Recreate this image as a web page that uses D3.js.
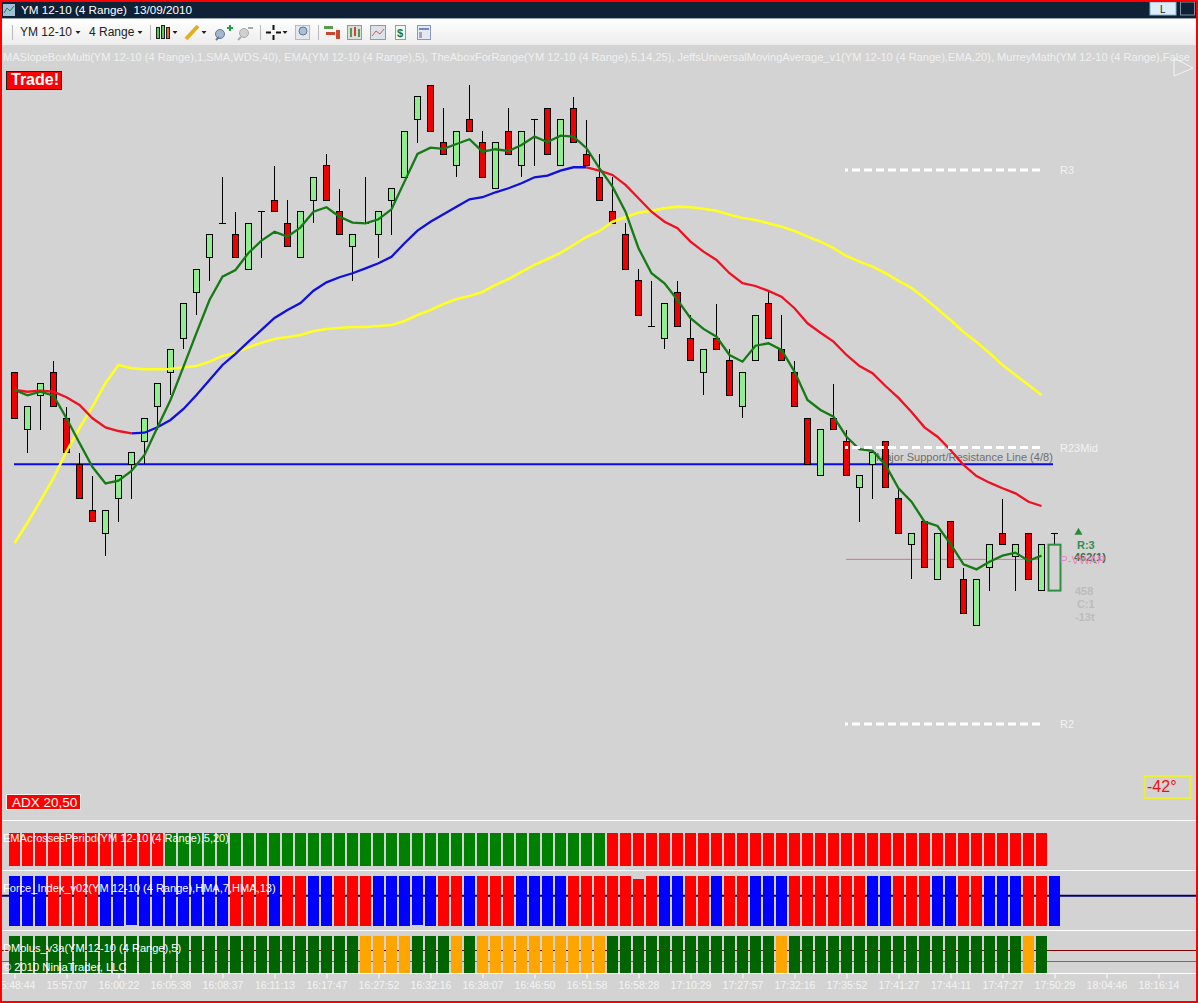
<!DOCTYPE html>
<html>

<head>
    <title>YM 12-10 (4 Range)</title>
    <meta charset="UTF-8" />
    <style>
        html, body { margin: 0; padding: 0; background: #d3d3d3; overflow: hidden; }
        svg { display: block; }
        text { font-family: "Liberation Sans", Arial, sans-serif; white-space: pre; }
    </style>
</head>

<body>
    <script src="https://d3js.org/d3.v7.min.js"></script>
    <script>
        // candles, one value per bar (price minus 10000)
        const opens = [477,472,475,477,473,469,465,463,466,469,471,474,477,480,484,487,490,489,486,491,
            492,490,487,492,495,491,488,490,489,492,494,499,502,497,495,499,497,493,498,495,
            499,500,495,500,496,494,491,489,485,481,480,484,480,477,480,478,474,478,483,479,
            477,473,468,473,471,467,469,471,466,462,464,459,464,459,455,460,463,461,463,458,458];
        const closes = [473,474,476,474,470,466,464,465,468,470,473,476,479,483,486,489,490,487,490,491,
            491,488,491,494,492,489,489,490,491,493,498,501,498,496,498,498,494,497,496,498,
            499,496,499,497,495,492,490,486,482,481,483,481,478,479,479,475,477,482,480,478,
            474,469,472,472,468,468,470,467,463,463,460,463,460,456,459,462,462,462,459,462,462];
        const highs = [477,474,476,478,474,470,468,465,468,470,473,476,479,483,486,489,494,491,490,491,
            495,492,491,494,496,493,489,494,491,493,498,501,502,500,498,502,498,497,500,498,
            499,500,499,501,499,496,494,490,486,485,483,485,482,479,483,479,477,482,484,482,
            478,473,472,476,472,468,470,471,467,463,464,463,464,460,459,462,466,462,463,462,463];
        const lows = [473,470,472,474,470,466,464,461,464,466,469,472,475,479,482,485,490,487,486,487,
            491,488,487,490,492,489,485,490,487,489,494,497,498,496,494,498,494,493,496,494,
            495,496,495,497,495,492,490,486,482,481,479,481,478,475,479,475,473,478,480,478,
            474,469,468,472,468,464,466,467,463,459,460,459,460,456,455,458,462,458,459,458,458];

        // EMA(5), green
        const ema5 = [475.47,475.01,475.32,474.98,473.01,470.86,468.76,467.34,467.57,468.42,
            469.81,472.22,474.6,477.5,480.44,483.31,485.34,485.92,487.41,488.48,
            489.26,488.83,489.64,491,491.39,490.57,490.05,489.99,490.34,491.21,
            493.62,496.03,496.58,496.47,496.9,497.31,496.23,496.44,496.29,496.81,
            497.54,497.07,497.62,497.54,496.53,494.78,493.18,491,487.82,485.64,
            484.77,483.31,481.72,480.79,480.11,478.52,477.94,479.33,479.54,478.96,
            477.07,474.6,473.73,473.15,471.4,470.31,470.18,468.94,466.91,465.74,
            464,463.63,462.06,460.29,459.85,460.52,461.04,461.3,460.6,461.04];

        // JeffsUniversalMovingAverage, EMA 20, red when falling and blue when rising
        const jma20 = [475.47,475.32,475.41,475.32,474.84,474.17,473.01,472.22,471.9,471.7,
            471.75,472.22,472.86,473.82,475.04,476.34,477.65,478.61,479.68,480.7,
            481.74,482.44,483.05,484.12,484.85,485.29,485.64,486.07,486.51,487.08,
            488.25,489.35,490.13,490.78,491.44,492.08,492.26,492.69,493.04,493.48,
            494,494.14,494.57,494.87,494.87,494.57,494.2,493.33,492.17,491,
            490.13,489.56,488.39,487.52,486.8,485.64,484.77,484.53,484.1,483.6,
            482.59,481.28,480.46,479.68,478.52,477.56,476.93,475.82,474.78,473.56,
            472.22,471.4,470.25,468.94,467.98,467.4,466.91,466.47,465.74,465.37];
        const jmaBlueFrom = 9;
        const jmaBlueTo = 44;

        // yellow slope average
        const slopeMa = [462.12,463.91,465.83,467.81,470.1,472.16,474.02,476.08,477.65,477.36,
            477.28,477.28,477.3,477.45,477.56,477.94,478.43,478.72,479.19,479.59,
            479.91,480.09,480.26,480.61,480.79,480.87,480.96,480.96,481.05,481.13,
            481.48,482,482.44,482.96,483.4,483.66,484.01,484.62,485.14,485.75,
            486.36,486.88,487.41,488.1,488.8,489.32,490.13,490.52,490.92,491.09,
            491.3,491.44,491.39,491.26,491.09,490.74,490.45,490.28,489.99,489.7,
            489.32,488.83,488.39,487.82,487.14,486.65,486.21,485.64,484.97,484.36,
            483.49,482.53,481.57,480.52,479.65,478.7,477.65,476.78,475.91,475.04];

        // Murrey levels
        const levelNames = ["R3", "R23Mid", "R2"];
        const levelValues = [494.64, 470.46, 446.38];
        const majorLine = 469;
        const vwapLine = 460.72;

        // time axis, one label every 4 bars
        const timeLabels = ["15:48:44","15:57:07","16:00:22","16:05:38","16:08:37","16:11:13","16:17:47","16:27:52",
            "16:32:16","16:38:07","16:46:50","16:51:58","16:58:28","17:10:29","17:27:57","17:32:16",
            "17:35:52","17:41:27","17:44:11","17:47:27","17:50:29","18:04:46","18:16:14"];

        // bottom panels, r=red g=green b=blue d=dark green o=orange
        const emaCross = "rrrrrrrrrrrrggggggggggggggggggggggggggggggggggrrrrrrrrrrrrrrrrrrrrrrrrrrrrrrrrrr";
        const forceIndex = "bbbrrrrbbbbbbbbbbrrrbrrbbrrrbbbbbrrbrrrbbbbrrrrrrrbbrrbrrbbbrrrrrrbbrrrbbrrbbbrrb";
        const dmolus = "dddddddddddddddddddddddddddoooodddodoooooooooodddddddddddddoddddddddddddddddddod";
        const forceShortBottom = [9, 31];
        const forceShortTop = [48];
        const barColors = { r: "#ff0000", g: "#008000", b: "#0000ff", d: "#006400", o: "#ffa500" };

        const legendText = "MASlopeBoxMulti(YM 12-10 (4 Range),1,SMA,WDS,40), EMA(YM 12-10 (4 Range),5), TheAboxForRange(YM 12-10 (4 Range),5,14,25), JeffsUniversalMovingAverage_v1(YM 12-10 (4 Range),EMA,20), MurreyMath(YM 12-10 (4 Range),False";

        let width = 1198,
            height = 1003;

        let svg = d3.select("body").append("svg")
            .attr("width", width)
            .attr("height", height);

        // scales
        let x = d3.scaleLinear().domain([0, 88]).range([14.5, 14.5 + 13 * 88]);
        let y = d3.scaleLinear().domain([458, 469]).range([590.6, 464.3]);
        let yForce = d3.scaleLinear().domain([0, 1]).range([926, 876]);

        // gradient of the toolbar
        let grad = svg.append("defs").append("linearGradient")
            .attr("id", "toolbar").attr("x1", 0).attr("x2", 0).attr("y1", 0).attr("y2", 1);
        grad.append("stop").attr("offset", "0%").attr("stop-color", "#ffffff");
        grad.append("stop").attr("offset", "100%").attr("stop-color", "#ececec");

        // chart background
        svg.append("rect").attr("width", width).attr("height", height).attr("fill", "#d3d3d3");

        // panel separators
        svg.append("g").selectAll("line").data([820.5, 870.5, 930.5, 973.5]).enter().append("line")
            .attr("x1", 2).attr("x2", 1196)
            .attr("y1", d => d).attr("y2", d => d)
            .attr("stroke", "#ffffff").attr("stroke-width", 1);

        // lines behind the bottom bars
        hline(895.8, 0, 1196, "#00006e", 2);
        hline(950.5, 0, 1196, "#7a0000", 1);
        hline(961.5, 0, 1196, "#c030e0", 1);

        // bottom panels
        drawBars(emaCross, () => 833, () => 866);
        drawBars(forceIndex,
            (d, i) => forceShortTop.includes(i) ? yForce(0.95) : yForce(1),
            (d, i) => forceShortBottom.includes(i) ? yForce(0.03) : yForce(0));
        drawBars(dmolus, () => 936, () => 973);

        function drawBars(codes, top, bottom) {
            svg.append("g").selectAll("rect").data(codes.split("")).enter().append("rect")
                .attr("x", (d, i) => x(i) - 5.5)
                .attr("width", 11)
                .attr("y", top)
                .attr("height", (d, i) => bottom(d, i) - top(d, i))
                .attr("fill", d => barColors[d])
                .attr("shape-rendering", "crispEdges");
        }

        function hline(yy, x1, x2, color, w) {
            svg.append("line").attr("x1", x1).attr("x2", x2)
                .attr("y1", yy).attr("y2", yy)
                .attr("stroke", color).attr("stroke-width", w);
        }

        function label(txt, tx, ty, size, color, weight) {
            return svg.append("text").attr("x", tx).attr("y", ty)
                .attr("font-size", size).attr("fill", color)
                .attr("font-weight", weight || "normal")
                .text(txt);
        }

        // major line and its label, under the candles
        hline(y(majorLine), 14, 1053, "#0a0aee", 2);
        label("Major Support/Resistance Line (4/8)", 876, 461, 11.05, "#6e6e6e");
        svg.append("line").attr("x1", 846).attr("x2", 1041)
            .attr("y1", y(vwapLine)).attr("y2", y(vwapLine))
            .attr("stroke", "#f060b0").attr("stroke-width", 1);

        // candles
        let candleData = opens.map((o, i) => ({ i: i, o: o, c: closes[i], h: highs[i], l: lows[i] }));
        let ghost = candleData.length - 1;

        svg.append("g").selectAll("line").data(candleData).enter().append("line")
            .attr("x1", d => x(d.i)).attr("x2", d => x(d.i))
            .attr("y1", d => y(d.h)).attr("y2", d => y(d.l))
            .attr("stroke", "#000").attr("stroke-width", 1)
            .attr("shape-rendering", "crispEdges");

        svg.append("g").selectAll("rect").data(candleData.slice(0, ghost)).enter().append("rect")
            .attr("x", d => x(d.i) - 3)
            .attr("width", 6)
            .attr("y", d => y(Math.max(d.o, d.c)))
            .attr("height", d => Math.max(Math.abs(y(d.o) - y(d.c)), 0.01))
            .attr("fill", d => d.c >= d.o ? "#90ee90" : "#ee0000")
            .attr("stroke", "#000")
            .attr("shape-rendering", "crispEdges");

        // cap of the running bar high
        let last = candleData[ghost];
        svg.append("line").attr("x1", x(last.i) - 3.5).attr("x2", x(last.i) + 3.5)
            .attr("y1", y(last.h)).attr("y2", y(last.h))
            .attr("stroke", "#000").attr("shape-rendering", "crispEdges");

        // running bar is a hollow box
        svg.append("rect")
            .attr("x", x(last.i) - 6).attr("width", 12)
            .attr("y", y(last.c)).attr("height", y(last.o) - y(last.c))
            .attr("fill", "#d3d3d3").attr("stroke", "#2f8f3f").attr("stroke-width", 2);

        // moving averages
        let line = d3.line().x(d => x(d.i)).y(d => y(d.v));
        let toPoints = arr => arr.map((v, i) => ({ i: i, v: v }));
        let drawLine = (pts, color, w) => svg.append("path")
            .attr("d", line(pts)).attr("fill", "none")
            .attr("stroke", color).attr("stroke-width", w);

        drawLine(toPoints(slopeMa), "#ffff22", 2.6);
        let jmaPoints = toPoints(jma20);
        drawLine(jmaPoints.slice(0, jmaBlueFrom + 1), "#ee1122", 2.3);
        drawLine(jmaPoints.slice(jmaBlueFrom, jmaBlueTo + 1), "#1010dd", 2.3);
        drawLine(jmaPoints.slice(jmaBlueTo), "#ee1122", 2.3);
        drawLine(toPoints(ema5), "#157a15", 2.3);

        // Murrey levels, dashed white
        levelValues.forEach((v, k) => {
            svg.append("line").attr("x1", 845).attr("x2", 1041)
                .attr("y1", y(v)).attr("y2", y(v))
                .attr("stroke", "#ffffff").attr("stroke-width", 3)
                .attr("stroke-dasharray", "8,4")
                .attr("stroke-dashoffset", 5);
            label(levelNames[k], 1060, y(v) + 4, 11, "#f2f2f2");
        });

        // texts around the last bar
        svg.append("path").attr("d", d3.symbol(d3.symbolTriangle, 28)())
            .attr("transform", "translate(1078.5,532.5)").attr("fill", "#2a8a3a");
        label("R:3", 1077, 549, 11, "#2f8f4f", "bold");
        label("462(1)", 1074, 561, 11, "#3e6e46", "bold");
        label("P-VWAP", 1060, 564, 11.5, "#f080c0");
        label("458", 1075, 595, 11, "#bcbcbc", "bold");
        label("C:1", 1077, 608, 11, "#bcbcbc", "bold");
        label("-13t", 1075, 621, 11, "#bcbcbc", "bold");

        // legend and boxes
        label(legendText, 3, 61, 11.05, "#f0f0f0");
        svg.append("rect").attr("x", 6.5).attr("y", 71.5).attr("width", 55).attr("height", 18)
            .attr("fill", "#ff0000").attr("stroke", "#202020");
        label("Trade!", 11, 85, 16, "#ffffff", "bold");
        svg.append("path").attr("d", "M1174,58L1193,68L1174,76Z").attr("fill", "none").attr("stroke", "#f4f4f4");

        svg.append("rect").attr("x", 6.5).attr("y", 794.5).attr("width", 74).attr("height", 15)
            .attr("fill", "#ff0000").attr("stroke", "#f0f0f0");
        label("ADX 20,50", 12, 807, 13.5, "#ffffff");

        svg.append("rect").attr("x", 1144.5).attr("y", 776).attr("width", 46).attr("height", 22)
            .attr("fill", "none").attr("stroke", "#eeee33").attr("stroke-width", 2);
        label("-42\u00B0", 1147, 792, 16, "#ee1111");

        // panel labels
        label("EMAcrossesPeriod(YM 12-10 (4 Range),5,20)", 3, 842, 11.05, "#ffffff");
        label("Force_Index_v02(YM 12-10 (4 Range),HMA,7,HMA,13)", 3, 892, 11.05, "#ffffff");
        label("DMolus_v3a(YM 12-10 (4 Range),5)", 3, 952, 11.05, "#ffffff");
        label("\u00A9 2010 NinjaTrader, LLC", 3, 971, 11.2, "#ffffff");

        // time axis
        let axis = d3.axisBottom(x)
            .tickValues(timeLabels.map((t, k) => k * 4))
            .tickFormat(d => timeLabels[d / 4])
            .tickSize(5)
            .tickPadding(3);
        let gAxis = svg.append("g").attr("transform", "translate(0,973.5)").call(axis);
        gAxis.select(".domain").remove();
        gAxis.selectAll("line").attr("stroke", "#ffffff");
        gAxis.selectAll("text").attr("fill", "#f4f4f4")
            .style("font-size", "10.5px")
            .style("font-family", '"Liberation Sans", Arial, sans-serif');

        // window frame, title bar and toolbar on top of the chart
        svg.append("rect").attr("y", 2).attr("width", width).attr("height", 16).attr("fill", "#0e2136");
        svg.append("rect").attr("y", 18).attr("width", width).attr("height", 1).attr("fill", "#9aa6b0");
        svg.append("rect").attr("y", 19).attr("width", width).attr("height", 26).attr("fill", "url(#toolbar)");

        label("YM 12-10 (4 Range)  13/09/2010", 21, 14, 11.7, "#ffffff");
        label("YM 12-10", 20, 36, 12, "#222222");
        label("4 Range", 89, 36, 12, "#222222");

        // little title icon
        svg.append("rect").attr("x", 3).attr("y", 4).attr("width", 12).attr("height", 12).attr("fill", "#9fc0d8");
        svg.append("path").attr("d", "M4,13L7,8L10,11L14,6").attr("fill", "none").attr("stroke", "#2f7a4a");

        // L button
        svg.append("rect").attr("x", 1150).attr("y", 2).attr("width", 26).attr("height", 13)
            .attr("fill", "#dcecf8").attr("stroke", "#8fb0cc");
        label("L", 1160, 13, 10, "#222222");
        svg.append("rect").attr("x", 1180.5).attr("y", 2).attr("width", 14).attr("height", 13)
            .attr("fill", "none").attr("stroke", "#7f8f9f");

        // toolbar icons
        let sep = [12, 150, 260, 318];
        svg.append("g").selectAll("rect").data(sep).enter().append("rect")
            .attr("x", d => d).attr("y", 25).attr("width", 1).attr("height", 15).attr("fill", "#b8b8b8");
        let carets = [78, 140, 175, 204, 285];
        svg.append("g").selectAll("path").data(carets).enter().append("path")
            .attr("d", d => "M" + (d - 2.5) + ",31h5l-2.5,3z").attr("fill", "#222222");
        // candle icon
        let icon = (ix, iy, w, h, fill, stroke) => svg.append("rect").attr("x", ix).attr("y", iy)
            .attr("width", w).attr("height", h).attr("fill", fill).attr("stroke", stroke || "none");
        icon(156.5, 27.5, 3, 11, "#5ac85a", "#222");
        icon(161.5, 25.5, 3, 13, "#5ac85a", "#222");
        icon(166.5, 27.5, 3, 11, "#d87030", "#222");
        // pencil
        svg.append("path").attr("d", "M186,39L198,26").attr("stroke", "#e0b020").attr("stroke-width", 4);
        // add and removed indicators
        svg.append("circle").attr("cx", 220).attr("cy", 34).attr("r", 4.5).attr("fill", "#a0b8d0").attr("stroke", "#607890");
        svg.append("path").attr("d", "M216,40L219,37").attr("stroke", "#607890").attr("stroke-width", 2);
        svg.append("path").attr("d", "M227,28h6M230,25v6").attr("stroke", "#20a040").attr("stroke-width", 2);
        svg.append("circle").attr("cx", 244).attr("cy", 33).attr("r", 4.5).attr("fill", "#d0d0d0").attr("stroke", "#aaaaaa");
        svg.append("path").attr("d", "M238,40L241,37M248,28h5").attr("stroke", "#aaaaaa").attr("stroke-width", 2);
        // crosshair
        svg.append("path").attr("d", "M266,32.5h5M276,32.5h5M273.5,25v5M273.5,35v5").attr("stroke", "#111").attr("stroke-width", 2);
        // zoom box
        icon(295.5, 25.5, 14, 14, "#e6e6ee", "#b8b8c8");
        svg.append("circle").attr("cx", 303).attr("cy", 31).attr("r", 4).attr("fill", "#a8c0d8").attr("stroke", "#607890");
        // properties icons
        icon(324, 26, 9, 3, "#5a9a4a");
        icon(326, 32, 9, 3, "#c84830");
        icon(336, 30, 4, 9, "#c84830");
        icon(347.5, 25.5, 14, 14, "#dcdcdc", "#999");
        icon(350, 28, 2, 9, "#4a9a4a");
        icon(354, 27, 2, 9, "#c84830");
        icon(358, 29, 2, 8, "#4a9a4a");
        icon(370.5, 25.5, 15, 14, "#dde2e8", "#999");
        svg.append("path").attr("d", "M372,36L376,31L380,34L384,29").attr("fill", "none").attr("stroke", "#c06060");
        icon(395.5, 25.5, 10, 14, "#f4f8f4", "#999");
        label("$", 397, 37, 11, "#1a7a2a", "bold");
        icon(417.5, 25.5, 13, 14, "#e4e8f4", "#8898c0");
        icon(419, 28, 10, 2, "#7088c0");
        icon(419, 32, 3, 6, "#b0a0c0");

        // red border
        svg.append("rect").attr("x", 1).attr("y", 1).attr("width", 1196).attr("height", 1001)
            .attr("fill", "none").attr("stroke", "#ff0000").attr("stroke-width", 2);
    </script>
</body>

</html>
